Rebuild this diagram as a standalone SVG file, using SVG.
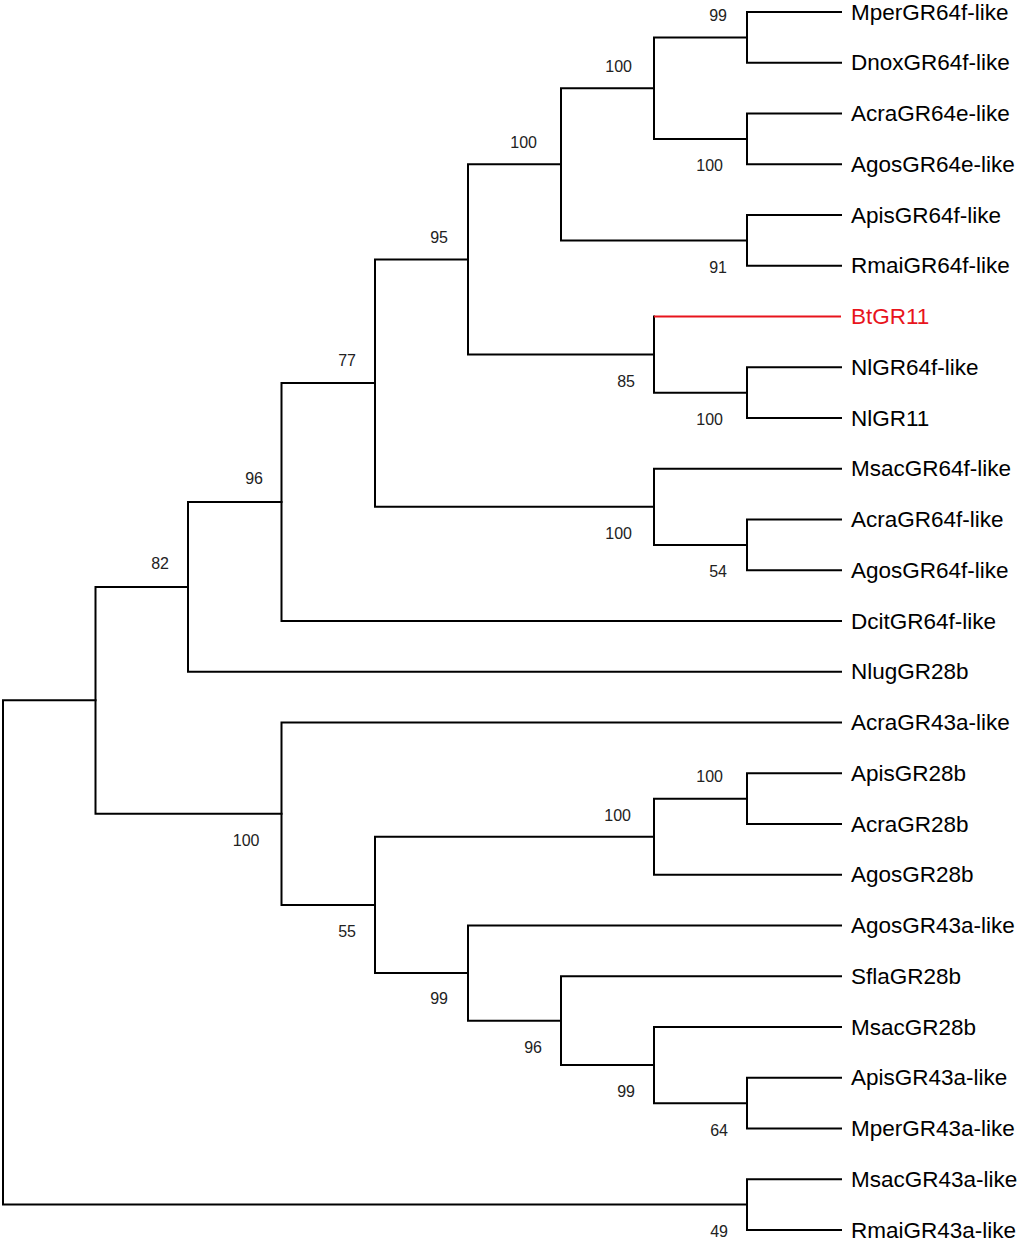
<svg xmlns="http://www.w3.org/2000/svg" width="1024" height="1239" viewBox="0 0 1024 1239">
<style>
.b{fill:none;stroke:#000;stroke-width:2;stroke-linecap:square}
.r{fill:none;stroke:#e8141c;stroke-width:2}
.leaf{font-family:"Liberation Sans",Arial,sans-serif;font-size:22.5px;fill:#000}
.bs{font-family:"Liberation Sans",Arial,sans-serif;font-size:16px;fill:#222;text-anchor:end}
</style>
<rect width="1024" height="1239" fill="#fff"/>
<g id="connectors">
<path class="b" d="M95.5 700.3H3V1204.6H747"/>
<path class="b" d="M188 586.9H95.5V813.7H281.5"/>
<path class="b" d="M281.5 502.05H188V671.75H841"/>
<path class="b" d="M375 383.1H281.5V621H841"/>
<path class="b" d="M468 259.4H375V506.8H654"/>
<path class="b" d="M561 164.25H468V354.56H654"/>
<path class="b" d="M654 88.125H561V240.375H747"/>
<path class="b" d="M747 37.375H654V138.875H747"/>
<path class="b" d="M841 12H747V62.75H841"/>
<path class="b" d="M841 113.5H747V164.25H841"/>
<path class="b" d="M841 215H747V265.75H841"/>
<path class="b" d="M654 316.5V392.625H747"/>
<path class="r" d="M654 316.5H841"/>
<path class="b" d="M841 367.25H747V418H841"/>
<path class="b" d="M841 468.75H654V544.875H747"/>
<path class="b" d="M841 519.5H747V570.25H841"/>
<path class="b" d="M841 722.5H281.5V904.88H375"/>
<path class="b" d="M654 836.69H375V973.08H468"/>
<path class="b" d="M747 798.625H654V874.75H841"/>
<path class="b" d="M841 773.25H747V824H841"/>
<path class="b" d="M841 925.5H468V1020.66H561"/>
<path class="b" d="M841 976.25H561V1065.06H654"/>
<path class="b" d="M841 1027H654V1103.125H747"/>
<path class="b" d="M841 1077.75H747V1128.5H841"/>
<path class="b" d="M841 1179.25H747V1230H841"/>
</g>
<g id="leaves">
<g id="l0"><text class="leaf" x="851" y="19.5">MperGR64f-like</text></g>
<g id="l1"><text class="leaf" x="851" y="70.25">DnoxGR64f-like</text></g>
<g id="l2"><text class="leaf" x="851" y="121">AcraGR64e-like</text></g>
<g id="l3"><text class="leaf" x="851" y="171.75">AgosGR64e-like</text></g>
<g id="l4"><text class="leaf" x="851" y="222.5">ApisGR64f-like</text></g>
<g id="l5"><text class="leaf" x="851" y="273.25">RmaiGR64f-like</text></g>
<g id="l6"><text class="leaf" x="851" y="324" fill="#e8141c" style="fill:#e8141c">BtGR11</text></g>
<g id="l7"><text class="leaf" x="851" y="374.75">NlGR64f-like</text></g>
<g id="l8"><text class="leaf" x="851" y="425.5">NlGR11</text></g>
<g id="l9"><text class="leaf" x="851" y="476.25">MsacGR64f-like</text></g>
<g id="l10"><text class="leaf" x="851" y="527">AcraGR64f-like</text></g>
<g id="l11"><text class="leaf" x="851" y="577.75">AgosGR64f-like</text></g>
<g id="l12"><text class="leaf" x="851" y="628.5">DcitGR64f-like</text></g>
<g id="l13"><text class="leaf" x="851" y="679.25">NlugGR28b</text></g>
<g id="l14"><text class="leaf" x="851" y="730">AcraGR43a-like</text></g>
<g id="l15"><text class="leaf" x="851" y="780.75">ApisGR28b</text></g>
<g id="l16"><text class="leaf" x="851" y="831.5">AcraGR28b</text></g>
<g id="l17"><text class="leaf" x="851" y="882.25">AgosGR28b</text></g>
<g id="l18"><text class="leaf" x="851" y="933">AgosGR43a-like</text></g>
<g id="l19"><text class="leaf" x="851" y="983.75">SflaGR28b</text></g>
<g id="l20"><text class="leaf" x="851" y="1034.5">MsacGR28b</text></g>
<g id="l21"><text class="leaf" x="851" y="1085.25">ApisGR43a-like</text></g>
<g id="l22"><text class="leaf" x="851" y="1136">MperGR43a-like</text></g>
<g id="l23"><text class="leaf" x="851" y="1186.75">MsacGR43a-like</text></g>
<g id="l24"><text class="leaf" x="851" y="1237.5">RmaiGR43a-like</text></g>
</g>
<g id="support">
<text class="bs" x="727" y="21">99</text>
<text class="bs" x="632" y="72">100</text>
<text class="bs" x="723" y="171">100</text>
<text class="bs" x="537" y="147.5">100</text>
<text class="bs" x="727" y="272.5">91</text>
<text class="bs" x="448" y="243">95</text>
<text class="bs" x="635" y="386.5">85</text>
<text class="bs" x="723" y="424.6">100</text>
<text class="bs" x="356" y="366">77</text>
<text class="bs" x="263" y="484">96</text>
<text class="bs" x="169" y="569">82</text>
<text class="bs" x="632" y="539">100</text>
<text class="bs" x="727" y="577">54</text>
<text class="bs" x="259.5" y="845.7">100</text>
<text class="bs" x="356" y="937">55</text>
<text class="bs" x="631" y="820.7">100</text>
<text class="bs" x="723" y="782">100</text>
<text class="bs" x="448" y="1004">99</text>
<text class="bs" x="542" y="1053">96</text>
<text class="bs" x="635" y="1097">99</text>
<text class="bs" x="728" y="1136">64</text>
<text class="bs" x="728" y="1237">49</text>
</g>
</svg>
